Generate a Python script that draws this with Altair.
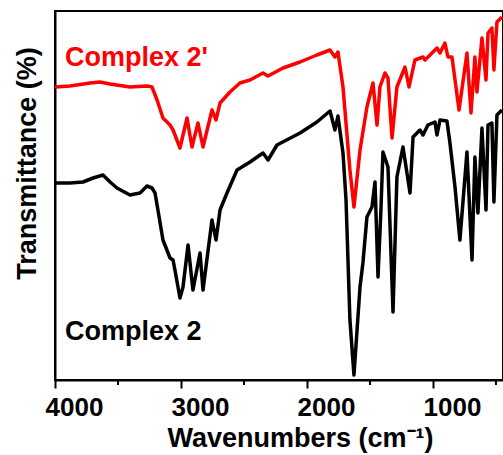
import altair as alt
import pandas as pd

# Complex 2 (black) spectrum: wavenumber (cm-1) and transmittance (arb. units)
wn_black = [4000, 3881, 3778, 3698, 3619, 3563, 3508, 3405, 3325, 3270, 3230, 3206, 3183,
            3143, 3087, 3063, 3048, 3008, 2984, 2944, 2905, 2849, 2825, 2754, 2722, 2690,
            2635, 2555, 2452, 2349, 2309, 2238, 2055, 1921, 1817, 1778, 1754, 1714, 1690,
            1659, 1627, 1579, 1556, 1524, 1484, 1460, 1436, 1413, 1397, 1357, 1317, 1286,
            1238, 1182, 1158, 1103, 1079, 1040, 984, 968, 944, 889, 865, 825, 786, 730,
            690, 667, 643, 611, 579, 563, 532, 516, 492, 452]
t_black = [197, 197, 198, 202, 205, 198, 192, 185, 187, 194, 192, 187, 170,
           140, 122, 120, 110, 82, 93, 135, 90, 127, 90, 160, 140, 170,
           187, 210, 218, 227, 220, 235, 247, 258, 269, 250, 264, 227, 180,
           60, 5, 93, 117, 163, 173, 198, 103, 170, 228, 213, 68, 203,
           233, 187, 243, 250, 245, 255, 258, 245, 260, 259, 237, 193, 140, 228,
           120, 223, 167, 252, 170, 255, 257, 178, 265, 270]

# Complex 2' (red) spectrum
wn_red = [4000, 3881, 3722, 3643, 3563, 3405, 3270, 3230, 3190, 3143, 3087, 3063, 3008,
          2952, 2913, 2865, 2825, 2754, 2722, 2690, 2611, 2532, 2452, 2349, 2309, 2190,
          2055, 1921, 1817, 1778, 1754, 1714, 1659, 1627, 1579, 1524, 1476, 1444, 1421,
          1381, 1357, 1325, 1286, 1222, 1190, 1143, 1079, 1063, 968, 944, 905, 881, 849,
          793, 730, 698, 667, 651, 611, 579, 563, 532, 516, 492, 452]
t_red = [293, 294, 297, 298, 296, 293, 294, 293, 280, 262, 255, 250, 232,
         262, 233, 257, 233, 270, 260, 277, 288, 297, 300, 307, 304, 312,
         318, 325, 330, 323, 328, 293, 210, 173, 230, 273, 297, 255, 293,
         307, 302, 242, 293, 313, 293, 320, 323, 320, 332, 327, 337, 323, 323,
         270, 327, 267, 323, 288, 342, 300, 347, 352, 310, 358, 363]

label_text = ["Complex 2'", "Complex 2"]
label_wn = [3921, 3921]
label_t = [314, 40]
label_color = ["#ff0000", "#000000"]

major_ticks = [4000, 3000, 2000, 1000]
minor_ticks = [3500, 2500, 1500, 500]

FONT = "Liberation Sans"

df = pd.concat([
    pd.DataFrame({"wn": wn_red, "t": t_red, "series": "Complex 2'"}),
    pd.DataFrame({"wn": wn_black, "t": t_black, "series": "Complex 2"}),
])
labels = pd.DataFrame({"text": label_text, "wn": label_wn, "t": label_t, "color": label_color})
minor = pd.DataFrame({"wn": minor_ticks})

xscale = alt.Scale(domain=[444, 4000], reverse=True, nice=False, zero=False)
yscale = alt.Scale(domain=[0, 369], nice=False, zero=False)

xaxis = alt.Axis(values=major_ticks, format="d", grid=False, labelFont=FONT,
                 labelFontSize=26, labelFontWeight="bold", labelColor="black",
                 labelOffset=19, labelFlush=False, labelOverlap=False, labelPadding=6,
                 tickSize=8, tickWidth=2, tickColor="black", domainWidth=2,
                 domainColor="black", title="Wavenumbers (cm⁻¹)", titleFont=FONT,
                 titleFontSize=27, titleFontWeight="bold", titleColor="black",
                 titleAnchor="start", titleAlign="center", titleX=245, titlePadding=5)
yaxis = alt.Axis(labels=False, ticks=False, grid=False, domainWidth=2, domainColor="black",
                 title="Transmittance (%)", titleFont=FONT, titleFontSize=27,
                 titleFontWeight="bold", titleColor="black", titleAngle=270,
                 titleAlign="center", titleBaseline="alphabetic", titleX=-20, titleY=152)

lines = alt.Chart(df).mark_line(strokeWidth=3.5, strokeJoin="round").encode(
    x=alt.X("wn:Q", scale=xscale, axis=xaxis),
    y=alt.Y("t:Q", scale=yscale, axis=yaxis),
    color=alt.Color("series:N", scale=alt.Scale(domain=["Complex 2'", "Complex 2"],
                                                 range=["#ff0000", "#000000"]), legend=None),
    detail="series:N",
)

text = alt.Chart(labels).mark_text(font=FONT, fontSize=27, fontWeight="bold", align="left",
                                   baseline="alphabetic").encode(
    x=alt.X("wn:Q", scale=xscale),
    y=alt.Y("t:Q", scale=yscale),
    text="text:N",
    color=alt.Color("color:N", scale=None),
)

minor_rules = alt.Chart(minor).mark_rule(color="black", strokeWidth=2).encode(
    x=alt.X("wn:Q", scale=xscale),
    y=alt.value(369),
    y2=alt.value(374),
)

chart = alt.layer(lines, text, minor_rules).properties(
    width=448, height=369,
    autosize=alt.AutoSizeParams(type="none"),
    padding={"left": 55, "top": 11, "right": 0, "bottom": 75},
    background="white",
).configure_view(stroke="black", strokeWidth=2)

chart.save("out.html", embed_options={"renderer": "svg", "actions": False})
